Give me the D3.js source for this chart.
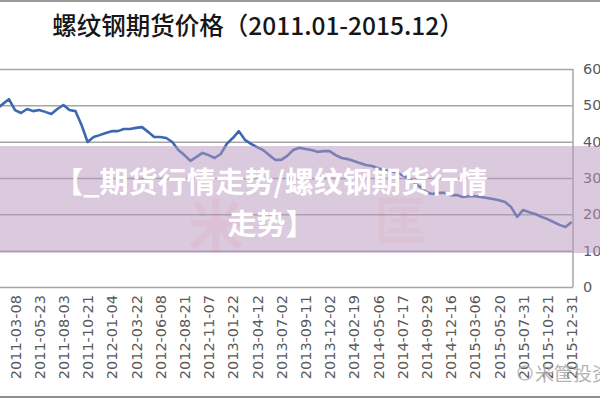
<!DOCTYPE html>
<html>
<head>
<meta charset="utf-8">
<script src="https://cdn.jsdelivr.net/npm/d3@7"></script>
<style>
  html, body { margin: 0; padding: 0; background: #fff; }
  svg { display: block; }
</style>
</head>
<body>
<svg id="chart" width="600" height="400"></svg>
<script>
// ---------------- data ----------------
const titleText = "螺纹钢期货价格（2011.01-2015.12）";
const overlayLines = ["【_期货行情走势/螺纹钢期货行情", "走势】"];
const dateLabels = [
  "2011-03-08","2011-05-23","2011-08-03","2011-10-21","2012-01-04","2012-03-22",
  "2012-06-08","2012-08-21","2012-11-07","2013-01-22","2013-04-12","2013-07-02",
  "2013-09-11","2013-12-02","2014-02-19","2014-05-06","2014-07-17","2014-09-29",
  "2014-12-16","2015-03-06","2015-05-20","2015-07-31","2015-10-21","2015-12-31"
];
const yTicks = [0, 1000, 2000, 3000, 4000, 5000, 6000];
// price samples, every quarter of a label interval starting 0.75 interval before first label
const sampleStart = -0.75;
const sampleStep = 0.25;
const prices = [
  4900,5040,5170,4870,4790,4900,4840,4870,4820,4760,
  4900,5010,4870,4840,4460,3990,4130,4180,4240,4290,
  4290,4350,4350,4380,4400,4270,4130,4130,4100,3990,
  3770,3630,3470,3580,3690,3630,3550,3660,3940,4100,
  4290,4050,3940,3850,3770,3630,3500,3500,3610,3770,
  3830,3800,3770,3720,3740,3740,3630,3550,3520,3470,
  3410,3360,3330,3270,3220,3190,3160,3080,3000,2860,
  2750,2610,2560,2590,2590,2530,2530,2480,2500,2500,
  2480,2450,2420,2390,2340,2200,1930,2120,2060,2010,
  1930,1870,1790,1710,1650,1790
];

// ---------------- layout ----------------
const W = 600, H = 400;
const plotLeft = -10, plotRight = 573, plotTop = 69, plotBottom = 287;

const svg = d3.select("#chart");
svg.append("rect").attr("width", W).attr("height", H).attr("fill", "#fff");

const x = d3.scaleLinear().domain([0, dateLabels.length - 1]).range([15, 571.6]);
const y = d3.scaleLinear().domain([0, 6000]).range([plotBottom, plotTop]);

// frame lines (top strip and bottom border)
svg.append("line").attr("x1", 0).attr("x2", W).attr("y1", 1).attr("y2", 1)
  .attr("stroke", "#9a9a9a").attr("stroke-width", 2);
svg.append("line").attr("x1", 0).attr("x2", W).attr("y1", 397).attr("y2", 397)
  .attr("stroke", "#8f8f8f").attr("stroke-width", 2);

// gridlines
const grid = svg.append("g").attr("transform", `translate(${plotRight},0)`)
  .call(d3.axisLeft(y).tickValues(yTicks).tickSize(plotRight - plotLeft).tickFormat(""));
grid.select(".domain").remove();
grid.selectAll(".tick line").attr("stroke", "#a6a6a6").attr("stroke-width", 1.5);

// right border of plot
svg.append("line").attr("x1", plotRight).attr("x2", plotRight)
  .attr("y1", plotTop).attr("y2", plotBottom)
  .attr("stroke", "#a6a6a6").attr("stroke-width", 1.5);

// y axis labels
const yAxis = svg.append("g").attr("transform", `translate(${plotRight},0)`)
  .call(d3.axisRight(y).tickValues(yTicks).tickSize(0).tickPadding(10).tickFormat(d3.format("d")));
yAxis.select(".domain").remove();
yAxis.selectAll("text")
  .attr("font-family", "DejaVu Sans, sans-serif")
  .attr("font-size", 14.5)
  .attr("fill", "#595959");

// x axis labels (rotated)
const xAxis = svg.append("g").attr("transform", `translate(0,295)`)
  .call(d3.axisBottom(x).tickValues(d3.range(dateLabels.length)).tickSize(0).tickPadding(0)
    .tickFormat(i => dateLabels[i]));
xAxis.select(".domain").remove();
xAxis.selectAll("text")
  .attr("font-family", "DejaVu Sans, sans-serif")
  .attr("font-size", 14.5)
  .attr("fill", "#595959")
  .attr("text-anchor", "end")
  .attr("transform", "rotate(-90)")
  .attr("x", 0).attr("y", 0).attr("dy", "0.35em");

// price line
const line = d3.line()
  .x((d, i) => x(sampleStart + i * sampleStep))
  .y(d => y(d));
svg.append("path").datum(prices)
  .attr("d", line)
  .attr("fill", "none")
  .attr("stroke", "#3c68b0")
  .attr("stroke-width", 2.6)
  .attr("stroke-linejoin", "round");

// title
svg.append("text").attr("x", 258).attr("y", 35)
  .attr("text-anchor", "middle")
  .attr("font-family", "Noto Sans CJK SC, sans-serif")
  .attr("font-size", 24.5).attr("font-weight", 500)
  .attr("fill", "#161616")
  .text(titleText);

// translucent band overlay
svg.append("rect").attr("x", 0).attr("y", 146).attr("width", W).attr("height", 107)
  .attr("fill", "#b895bb").attr("opacity", 0.5);

// faint watermark logo
svg.append("text").attr("x", 216).attr("y", 246).attr("text-anchor", "middle")
  .attr("font-family", "Noto Sans CJK SC, sans-serif").attr("font-size", 56).attr("font-weight", 700)
  .attr("fill", "#e04848").attr("opacity", 0.06).text("米");
svg.append("text").attr("x", 400).attr("y", 240).attr("text-anchor", "middle")
  .attr("font-family", "Noto Sans CJK SC, sans-serif").attr("font-size", 52).attr("font-weight", 700)
  .attr("fill", "#e04848").attr("opacity", 0.05).text("匡");

// overlay text
svg.append("text").attr("x", 271).attr("y", 193).attr("text-anchor", "middle")
  .attr("font-family", "Noto Sans CJK SC, sans-serif")
  .attr("font-size", 29).attr("font-weight", 700).attr("fill", "#fff")
  .text(overlayLines[0]);
svg.append("text").attr("x", 271).attr("y", 235).attr("text-anchor", "middle")
  .attr("font-family", "Noto Sans CJK SC, sans-serif")
  .attr("font-size", 29).attr("font-weight", 700).attr("fill", "#fff")
  .text(overlayLines[1]);

// wechat watermark bottom-right
svg.append("circle").attr("cx", 525).attr("cy", 373).attr("r", 7)
  .attr("fill", "none").attr("stroke", "#b0b0b0").attr("stroke-width", 1.5).attr("opacity", 0.8);
svg.append("text").attr("x", 535).attr("y", 381)
  .attr("font-family", "Noto Sans CJK SC, sans-serif").attr("font-size", 19)
  .attr("fill", "#a8a8a8").attr("opacity", 0.85).text("米筐投资");
</script>
</body>
</html>
